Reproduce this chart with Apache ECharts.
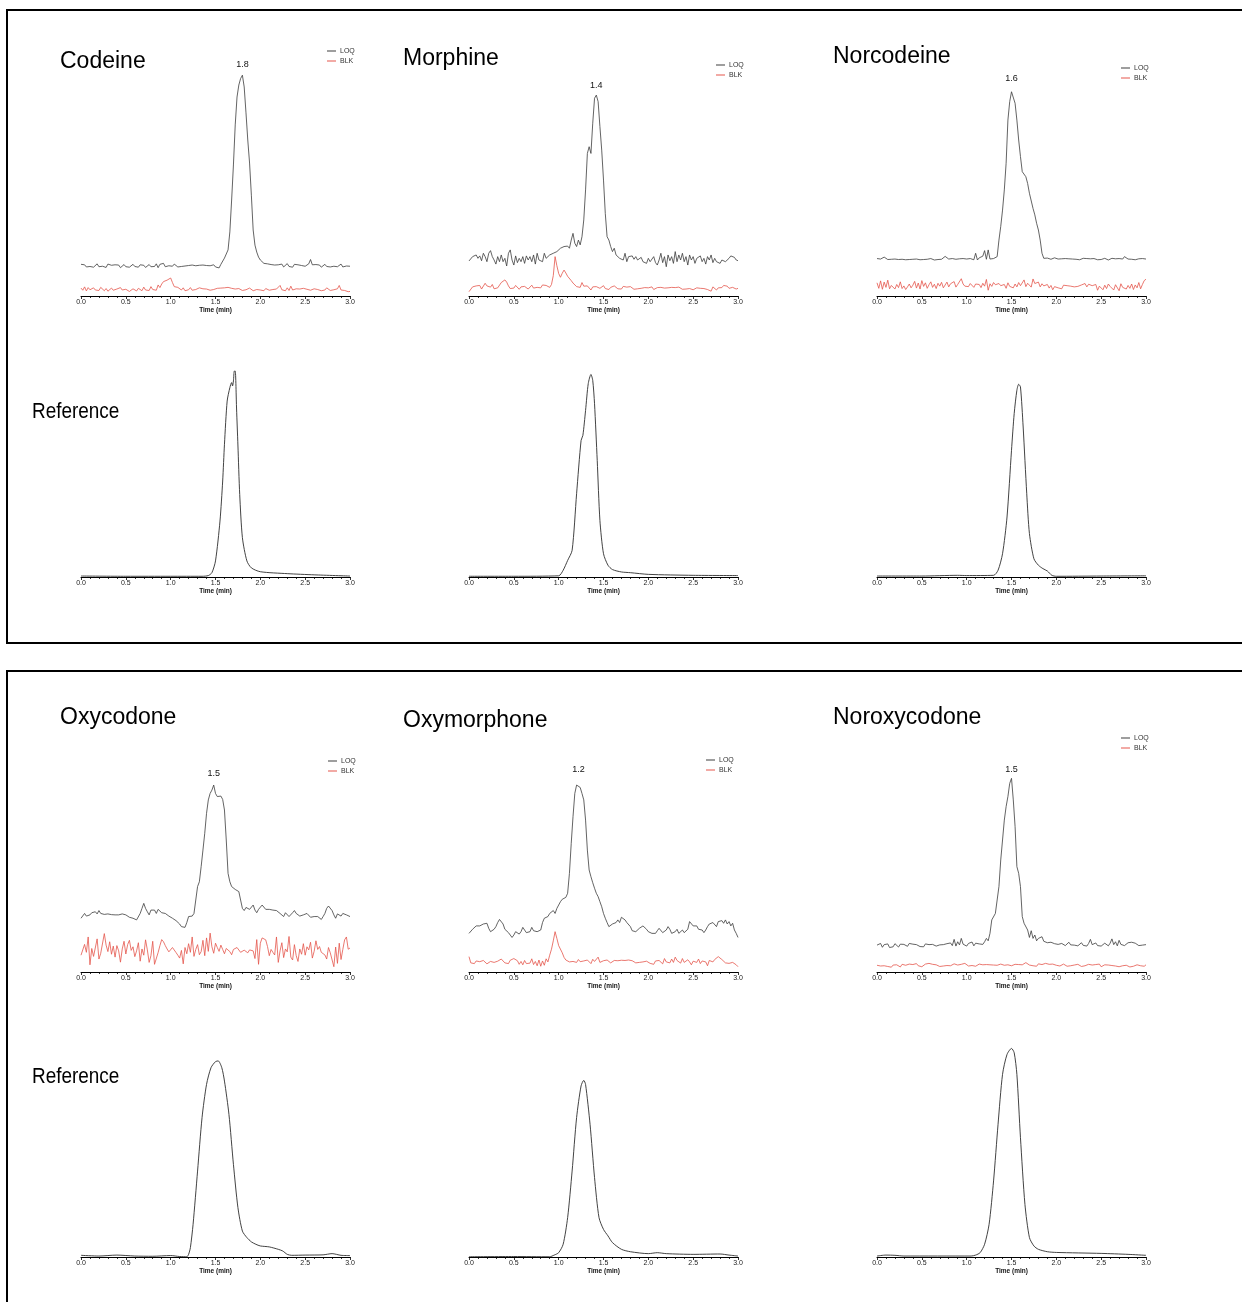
<!DOCTYPE html>
<html>
<head>
<meta charset="utf-8">
<title>LC-MS/MS chromatograms – LOQ, blank and reference</title>
<script src="https://cdn.jsdelivr.net/npm/echarts@6/dist/echarts.min.js"></script>
<style>
  html, body { margin: 0; padding: 0; background: #fff; }
  #chart { width: 1242px; height: 1302px; }
</style>
</head>
<body>
<div id="chart"></div>
<script>
// Sampling interval of the LOQ / blank traces (min); index i sits at i * TIME_STEP.
const TIME_STEP = 0.02;
const X_TICKS = ['0.0', '0.5', '1.0', '1.5', '2.0', '2.5', '3.0'];
const COMPOUNDS = ['Codeine', 'Morphine', 'Norcodeine', 'Oxycodone', 'Oxymorphone', 'Noroxycodone'];
const RT_LABELS = ['1.8', '1.4', '1.6', '1.5', '1.2', '1.5'];
const SERIES_NAMES = ['LOQ', 'BLK'];

// Relative intensity (0–100 of panel height), one value per TIME_STEP from 0.0 to 3.0 min
const codeineLOQ = [
  13.2,12.6,13.0,12.1,12.8,12.3,13.1,12.0,12.7,13.4,
  12.2,12.9,12.4,13.0,11.9,13.3,12.5,12.8,12.1,13.0,
  12.4,12.9,11.8,12.6,13.1,12.2,12.8,12.0,12.7,13.2,
  12.3,12.6,12.0,13.0,12.4,12.8,11.9,12.7,13.1,12.2,
  12.9,12.3,13.4,11.8,13.2,12.5,13.6,12.2,13.0,12.6,
  13.1,12.4,13.3,12.7,12.1,12.9,12.3,12.8,12.5,12.0,
  12.7,12.3,12.9,12.2,12.6,12.1,12.8,12.4,12.9,12.2,
  12.7,12.0,12.6,12.3,13.0,12.1,12.8,11.7,13.2,13.8,
  15.8,17.5,19.2,26.7,40.0,54.6,71.3,82.9,87.9,90.6,
  92.0,87.1,76.3,65.0,55.4,42.0,27.5,21.2,18.3,16.2,
  15.0,14.2,13.6,13.0,13.4,12.6,13.1,12.4,12.9,12.2,
  13.0,12.5,13.3,12.1,12.8,13.5,12.3,12.9,12.0,13.2,
  12.6,13.0,12.2,12.7,13.1,12.4,12.8,13.4,15.2,13.0,
  12.3,13.1,12.5,12.9,12.0,12.7,13.2,12.3,12.8,12.1,
  12.9,12.4,13.0,12.2,12.6,13.3,12.1,12.8,12.5,13.0,
  12.4
];
const codeineBLK = [
  3.3,2.4,3.8,2.1,3.5,2.6,2.2,3.4,2.5,3.0,
  2.3,3.6,2.8,2.2,3.1,2.0,2.7,3.3,2.4,2.1,
  2.9,2.3,3.5,2.5,2.0,2.8,2.2,1.9,2.6,3.0,
  2.4,2.1,3.2,2.6,2.2,3.7,2.5,3.1,2.3,3.9,
  2.7,3.3,2.4,4.6,3.5,5.0,6.0,6.3,6.6,7.1,
  7.5,5.6,3.9,3.2,3.6,2.8,2.5,3.4,2.2,3.0,
  2.6,3.5,2.4,3.1,2.7,2.3,3.4,2.6,3.0,2.2,
  2.9,3.3,2.4,3.0,2.7,3.5,3.2,3.6,3.3,3.9,
  3.4,3.0,3.6,2.8,3.2,2.6,2.9,2.4,3.1,2.7,
  2.3,3.0,2.6,2.4,3.3,2.5,2.2,2.9,2.7,3.2,
  2.5,2.8,2.2,3.1,2.6,2.4,3.0,2.7,2.1,2.9,
  2.4,4.4,2.6,3.0,2.2,3.4,2.3,4.1,2.5,2.8,
  3.0,2.5,2.9,2.3,3.2,2.6,2.8,3.3,2.4,2.2,
  3.0,2.4,2.7,3.2,2.2,2.8,2.5,3.4,2.7,2.3,
  3.1,2.6,2.4,3.0,4.4,2.5,3.2,2.3,2.9,1.8,
  1.9
];
const morphineLOQ = [
  14.6,13.9,16.4,15.7,17.1,15.7,16.7,14.7,17.8,16.4,
  14.3,17.8,18.9,16.4,15.0,13.3,16.4,14.3,17.1,14.3,
  15.7,12.5,17.8,19.2,15.0,12.9,16.7,13.9,15.7,14.3,
  16.4,13.6,16.7,15.0,16.4,14.3,17.1,13.3,17.8,15.0,
  15.7,14.3,17.8,15.7,15.0,17.1,16.4,17.8,17.1,18.5,
  19.2,19.9,19.2,20.6,19.9,20.8,19.9,23.3,26.1,22.0,
  20.6,23.3,21.3,24.7,31.7,44.2,59.4,62.2,59.4,72.0,
  82.4,83.7,81.0,70.6,60.8,48.3,34.4,24.7,23.3,20.6,
  18.5,19.9,17.1,17.8,15.7,16.4,15.0,17.8,14.3,16.4,
  15.7,16.7,15.3,16.4,15.0,15.7,16.1,14.3,15.0,13.6,
  15.7,14.3,15.0,16.4,13.9,12.9,15.0,17.8,13.9,16.4,
  12.2,17.1,14.7,16.4,13.6,18.5,14.3,17.1,15.0,17.8,
  14.3,16.4,12.9,17.1,15.0,16.4,13.6,15.7,15.0,16.7,
  14.3,15.7,13.3,16.4,15.0,17.1,13.9,15.7,14.3,15.0,
  13.6,15.0,15.7,14.3,15.0,15.7,16.7,17.1,16.1,15.0,
  14.7
];
const morphineBLK = [
  1.8,2.4,3.8,4.6,4.2,3.5,4.4,2.9,3.6,5.3,
  4.2,5.0,3.7,4.8,3.0,2.2,3.4,4.1,5.6,6.3,
  6.7,5.8,4.2,3.1,3.9,3.3,4.4,3.6,2.8,3.8,
  3.2,4.0,3.5,2.9,3.7,4.5,3.3,4.1,3.6,4.3,
  3.4,4.6,3.9,4.4,4.1,3.6,4.8,8.5,16.4,12.6,
  9.4,7.8,9.5,10.8,9.6,8.2,7.5,6.4,5.4,4.6,
  3.9,3.2,3.6,5.6,4.1,3.5,4.2,3.4,2.5,3.8,
  4.6,3.9,4.4,3.2,3.7,4.3,3.1,3.8,2.7,3.6,
  3.3,4.2,3.5,3.0,3.8,2.9,4.0,3.4,3.7,3.1,
  3.9,3.3,2.8,3.6,3.0,3.7,3.2,2.6,3.5,2.9,
  3.4,3.0,3.8,2.7,2.0,3.5,3.1,3.6,2.9,3.3,
  3.8,3.4,3.9,3.6,4.0,3.5,3.1,3.7,3.2,2.8,
  3.3,2.9,3.6,3.1,3.5,2.6,3.0,3.4,2.8,3.2,
  3.6,3.1,3.4,2.7,3.3,2.0,3.8,3.2,2.5,3.4,
  3.0,3.5,4.4,3.6,4.1,3.2,3.0,3.6,3.3,2.9,
  3.2
];
const norcodeineLOQ = [
  15.6,15.9,15.4,15.8,16.2,15.5,15.2,15.7,15.3,15.0,
  15.4,15.8,15.2,14.9,15.3,15.6,15.1,14.8,15.2,15.5,
  15.3,15.0,15.4,15.6,15.1,14.8,15.2,15.5,15.3,15.9,
  15.6,15.2,15.0,15.4,15.2,15.7,15.3,15.5,16.5,15.8,
  15.4,15.1,15.6,15.8,15.3,15.9,15.5,15.2,15.6,16.0,
  15.4,15.3,15.6,15.5,15.1,17.8,15.0,15.9,15.4,16.6,
  18.9,15.3,19.2,15.4,15.1,15.6,16.0,16.4,23.3,29.0,
  35.8,44.2,55.3,73.3,81.0,85.1,84.7,80.3,73.3,65.0,
  58.1,51.8,51.1,49.7,46.9,42.8,43.5,36.5,33.8,30.3,
  27.5,23.3,17.8,15.7,15.4,15.8,15.5,15.3,15.7,15.9,
  15.6,15.4,15.8,15.5,15.3,15.6,15.2,15.5,15.8,15.4,
  15.6,15.3,15.5,15.1,15.4,15.7,15.3,15.6,15.2,15.5,
  15.3,15.6,15.4,15.1,15.5,15.2,15.4,15.7,15.3,15.0,
  15.4,15.7,15.3,15.5,15.2,15.6,15.9,15.4,16.4,15.8,
  15.4,15.6,15.3,15.7,15.1,14.9,15.5,15.2,15.6,15.0,
  15.4
];
const norcodeineBLK = [
  5.5,3.2,6.3,2.8,5.8,3.6,6.6,3.0,4.4,5.2,
  2.9,4.8,3.5,5.9,3.1,4.2,2.7,3.8,5.0,3.4,
  4.5,6.1,3.3,5.4,2.9,6.4,4.0,5.5,3.2,4.7,
  5.9,3.6,4.9,3.1,5.3,4.1,5.7,3.4,4.6,5.8,
  3.8,5.1,4.3,6.0,3.7,4.8,5.5,7.2,5.0,4.1,
  4.6,3.9,5.2,4.4,3.6,5.0,4.2,4.8,3.5,5.3,
  4.1,6.9,2.4,5.1,4.0,5.6,4.7,3.9,5.2,4.3,
  3.6,4.8,3.2,5.5,4.0,4.6,3.4,5.0,3.8,5.6,
  4.3,5.1,6.7,3.9,5.3,4.5,3.7,7.1,5.2,4.4,
  5.8,3.8,5.1,4.2,3.6,4.8,3.3,4.4,2.6,3.9,
  4.7,3.4,4.2,3.0,4.5,3.9,4.3,3.5,4.1,4.6,
  3.8,4.4,4.0,3.2,4.6,4.2,5.2,3.8,4.9,5.4,
  4.3,3.6,4.8,2.4,4.1,3.3,2.6,4.5,3.1,5.0,
  4.0,3.5,2.5,4.7,3.9,2.2,5.1,3.6,4.2,2.9,
  4.4,3.2,5.0,2.7,4.6,3.4,5.6,3.0,4.8,6.4,
  7.0
];
const oxycodoneLOQ = [
  22.4,23.1,24.4,23.3,22.8,23.8,24.7,24.4,25.1,24.2,
  25.6,24.4,25.0,24.0,24.4,24.2,23.8,23.9,23.3,23.8,
  24.4,23.8,23.1,24.2,24.7,23.8,23.3,22.8,23.3,22.4,
  23.1,21.7,21.0,24.4,26.5,28.6,26.5,25.1,23.8,25.8,
  26.5,25.8,24.4,26.1,25.6,24.7,25.1,24.4,23.8,23.3,
  23.1,22.4,21.9,21.4,21.0,20.0,18.9,18.1,18.6,20.6,
  23.1,23.8,23.3,24.4,30.0,35.6,37.6,43.9,50.8,57.8,
  66.1,71.7,74.4,75.8,77.9,74.4,73.1,72.4,73.3,71.9,
  67.5,55.0,41.1,37.6,35.6,34.9,34.4,34.9,33.5,30.0,
  26.5,25.6,26.9,27.5,26.1,26.5,27.9,25.8,24.7,26.1,
  26.9,27.9,27.2,26.1,26.5,26.1,26.5,25.8,26.4,25.6,
  26.1,24.4,23.8,23.1,24.7,24.4,23.1,23.3,24.7,25.6,
  24.4,23.8,23.3,22.8,23.8,23.1,24.4,23.8,22.8,22.4,
  23.1,23.8,23.1,22.4,21.9,23.1,24.4,26.5,27.5,26.9,
  25.6,23.8,22.4,24.2,24.7,23.3,24.4,25.1,23.8,23.3,
  23.1
];
const oxycodoneBLK = [
  7.0,6.3,11.5,8.2,14.6,3.0,9.8,6.5,7.2,13.8,
  5.4,7.8,7.0,16.0,11.2,8.5,12.6,7.4,10.8,6.2,
  11.0,8.8,4.1,9.6,12.8,7.5,11.4,13.2,9.0,10.5,
  6.4,8.8,12.2,4.5,9.6,7.0,13.4,9.2,4.0,6.8,
  12.8,3.2,2.4,8.1,11.0,13.5,12.6,11.0,9.6,8.4,
  7.8,10.2,9.4,8.1,7.0,5.8,9.0,3.4,10.2,7.6,
  11.8,8.2,14.6,6.5,9.4,11.4,7.2,8.5,13.2,6.8,
  14.2,8.6,16.2,10.5,7.8,12.0,10.2,8.6,11.2,9.4,
  7.6,9.8,10.4,8.5,7.2,9.4,8.6,10.2,9.5,8.2,
  7.8,9.1,8.4,8.0,9.2,8.4,8.8,5.6,13.5,3.2,
  12.0,14.2,15.0,13.4,10.6,6.8,9.4,8.2,7.1,14.6,
  4.0,8.8,12.2,6.0,9.6,8.4,14.8,6.2,5.0,11.4,
  6.8,4.4,9.6,7.4,11.8,7.0,10.5,9.2,12.4,5.8,
  8.6,13.0,9.4,10.6,8.2,8.8,7.1,5.4,10.2,8.0,
  8.8,2.2,10.4,3.6,12.0,5.2,9.4,13.4,14.6,9.5,
  10.0
];
const oxymorphoneLOQ = [
  16.1,16.8,17.8,18.6,19.2,19.6,19.2,18.9,20.0,20.6,
  20.3,18.2,16.8,16.8,17.8,18.9,20.6,21.9,22.4,20.0,
  17.8,17.2,16.4,15.4,14.4,15.4,16.8,17.5,15.8,16.8,
  18.6,17.5,16.4,17.2,16.8,18.6,17.2,16.4,16.8,16.1,
  17.5,20.6,22.4,21.7,23.1,24.4,25.1,25.6,24.4,26.5,
  27.9,29.3,30.3,30.0,31.1,32.8,41.1,53.6,64.7,74.4,
  77.9,78.6,76.9,74.4,71.7,63.3,50.8,42.5,39.7,37.2,
  34.9,32.8,31.4,29.3,27.2,24.4,22.4,20.6,18.9,19.6,
  20.0,20.3,20.6,21.7,20.6,22.8,23.3,21.7,20.6,20.0,
  18.9,17.2,16.4,16.8,17.5,18.2,18.9,19.2,18.6,17.8,
  16.8,17.5,16.1,15.4,16.1,17.2,18.2,17.8,16.4,15.8,
  17.5,18.9,17.8,16.1,15.4,16.8,17.8,16.1,16.8,17.5,
  16.4,15.8,17.8,21.0,20.3,19.2,20.0,19.2,17.8,18.6,
  17.5,16.4,17.5,18.9,20.0,19.2,20.6,20.0,18.9,21.0,
  20.3,21.4,20.3,21.7,20.0,21.0,19.2,20.3,17.5,16.1,
  14.4
];
const oxymorphoneBLK = [
  6.4,3.8,4.2,3.5,4.6,5.0,4.3,3.6,4.8,4.1,
  3.4,3.8,4.4,5.2,4.0,3.6,4.5,3.9,5.4,4.6,
  3.8,4.3,3.5,4.9,5.3,5.6,5.3,4.7,3.2,4.4,
  3.0,4.8,3.5,4.2,3.7,5.5,3.1,4.4,2.6,5.0,
  2.4,4.6,2.8,5.5,4.2,7.0,9.5,13.0,16.8,14.0,
  11.0,11.2,8.0,6.1,5.0,5.3,4.2,5.0,4.4,4.8,
  4.0,5.2,4.3,3.8,4.6,4.1,5.0,4.2,3.5,5.3,
  4.4,3.6,6.2,4.0,3.4,4.7,4.2,5.0,4.6,3.8,
  4.4,4.8,5.0,4.7,5.1,4.9,5.2,4.8,4.6,5.0,
  5.1,4.7,4.3,3.8,4.4,4.0,3.5,4.2,3.9,4.5,
  4.1,3.6,4.3,3.2,4.6,5.2,4.8,4.0,3.4,5.6,
  4.2,5.0,3.8,5.4,4.0,6.2,4.8,5.4,3.7,5.6,
  4.0,3.3,5.1,4.2,3.0,4.5,4.8,4.0,5.4,3.5,
  4.6,5.3,4.2,2.6,4.8,5.6,4.2,5.2,5.9,6.4,
  5.6,5.2,4.4,3.8,4.0,3.6,3.8,4.0,3.4,3.0,
  2.2
];
const noroxycodoneLOQ = [
  11.2,10.6,11.9,10.3,11.4,10.8,11.7,10.2,11.0,10.5,
  11.8,11.3,10.4,11.6,10.9,11.5,11.2,10.7,11.9,11.1,
  11.6,10.8,11.4,11.0,10.6,11.2,10.5,11.7,11.0,11.4,
  10.9,11.5,11.2,10.8,11.6,11.3,10.7,11.4,11.1,11.8,
  11.5,12.1,11.0,13.6,10.8,12.6,11.3,14.0,11.6,12.2,
  10.8,11.9,11.4,12.5,10.9,12.0,11.3,11.7,12.4,11.5,
  12.6,14.0,13.0,16.1,21.7,22.4,24.4,30.0,35.6,46.7,
  55.0,63.3,68.9,73.1,78.6,80.7,71.7,60.6,43.9,41.1,
  35.6,23.1,20.3,21.0,17.5,14.4,17.2,14.0,15.4,13.0,
  14.0,13.3,14.7,12.8,13.6,12.2,13.0,12.4,12.9,11.8,
  12.6,11.5,12.2,11.9,12.3,11.0,11.6,12.4,11.3,11.9,
  11.2,12.0,10.9,11.7,12.2,11.1,11.6,10.8,11.9,13.6,
  11.4,10.6,12.1,11.0,11.7,10.8,11.5,12.0,11.2,10.9,
  12.0,13.8,11.4,12.6,10.9,13.2,11.5,12.3,11.0,11.8,
  12.2,12.6,12.4,11.8,12.0,11.3,11.0,11.6,11.2,10.7,
  11.4
];
const noroxycodoneBLK = [
  2.8,2.2,2.5,1.9,2.6,3.1,2.3,2.7,2.0,2.9,
  2.4,3.0,2.6,2.1,3.2,2.5,2.8,2.2,3.3,2.7,
  3.1,2.4,3.5,2.6,3.0,2.2,2.9,3.3,2.5,3.6,
  2.8,3.2,2.4,3.0,2.6,2.3,2.9,2.5,3.1,2.7,
  3.3,2.6,3.0,3.4,3.8,2.9,3.5,3.2,2.8,3.6,
  3.0,2.5,3.2,2.7,3.1,2.4,2.9,3.3,2.6,3.0,
  2.5,3.1,3.8,3.0,3.2,2.9,3.1,2.8,3.0,3.3,
  3.0,2.8,3.4,3.0,2.7,2.6,2.9,3.2,2.8,3.1,
  2.7,3.0,3.5,3.9,3.2,2.9,3.1,2.6,3.0,2.4,
  3.4,2.8,3.1,2.5,3.6,2.9,3.2,2.6,3.3,3.0,
  2.8,3.2,2.5,2.9,3.3,2.7,2.4,3.0,2.6,3.1,
  2.9,2.5,3.2,2.7,2.3,3.0,2.6,2.8,3.2,2.5,
  2.9,2.4,3.1,2.6,3.3,2.2,2.8,3.0,2.5,2.9,
  2.3,2.7,3.2,2.5,2.9,2.2,3.0,2.6,2.4,2.8,
  2.6,2.1,2.9,2.4,2.7,3.0,2.2,2.6,1.8,2.4,
  3.0
];

// Reference standard traces: [time (min), relative intensity]
const codeineRef = [
  [0,0.4],[0.5,0.3],[1.0,0.3],[1.35,0.3],[1.42,0.6],[1.46,1.8],[1.5,6.7],[1.55,23.3],
  [1.58,40],[1.6,55.3],[1.63,73.3],[1.66,78.9],[1.68,81],[1.69,79.6],[1.7,81.7],
  [1.71,85.8],[1.72,85.8],[1.735,70],[1.75,55],[1.77,34.4],[1.8,16.4],[1.85,6.7],
  [1.9,3.8],[2.0,2.2],[2.3,1.4],[2.6,0.9],[3.0,0.4]
];
const morphineRef = [
  [0,0.3],[0.5,0.3],[1.0,0.5],[1.05,2.8],[1.1,6.9],[1.15,11.1],[1.2,34.7],[1.25,56.9],
  [1.27,59],[1.3,69.4],[1.33,80.6],[1.36,84.4],[1.38,81.9],[1.4,72.2],[1.43,48.6],
  [1.46,23.6],[1.5,9.7],[1.55,4.9],[1.6,3.1],[1.7,2.1],[1.8,1.8],[2.0,1.1],[2.5,0.7],[3.0,0.6]
];
const norcodeineRef = [
  [0,0.4],[0.5,0.4],[0.9,0.7],[1.0,0.6],[1.3,0.7],[1.35,2.8],[1.4,9.7],[1.45,25],
  [1.5,52.8],[1.53,68.1],[1.56,77.8],[1.58,80.3],[1.6,79.2],[1.63,62.5],[1.67,34.7],
  [1.7,18.1],[1.75,7.6],[1.8,4.9],[1.85,3.5],[1.9,2.5],[1.95,0.7],[2.0,0.3],[2.5,0.4],[3.0,0.5]
];
const oxycodoneRef = [
  [0,0.7],[0.2,0.4],[0.4,0.8],[0.6,0.4],[0.8,0.3],[1.0,0.6],[1.1,0.2],[1.18,0.1],
  [1.2,1.1],[1.22,3.9],[1.25,13.6],[1.3,35.8],[1.35,58.1],[1.4,71.9],[1.45,78.9],
  [1.5,81.4],[1.53,81.7],[1.57,78.9],[1.6,73.3],[1.65,59.4],[1.7,38.6],[1.75,20.6],
  [1.8,10.8],[1.85,8.1],[1.9,6.3],[1.95,5.3],[2.0,4.6],[2.1,4.2],[2.2,3.2],[2.25,2.5],
  [2.3,1.1],[2.35,0.7],[2.5,0.8],[2.7,0.9],[2.8,1.4],[2.9,0.7],[3.0,0.6]
];
const oxymorphoneRef = [
  [0,0.1],[0.5,0.2],[0.9,0.1],[0.95,0.8],[1.0,1.8],[1.05,5.3],[1.1,16.4],[1.15,35.8],
  [1.2,58.1],[1.25,71.3],[1.28,73.6],[1.3,71.9],[1.35,55.3],[1.4,33.1],[1.45,16.4],
  [1.5,11.5],[1.55,8.8],[1.6,6.0],[1.7,3.2],[1.8,2.2],[2.0,1.4],[2.1,1.8],[2.2,1.4],
  [2.5,1.1],[2.8,1.25],[2.9,0.8],[3.0,0.4]
];
const noroxycodoneRef = [
  [0,0.4],[0.1,0.8],[0.2,0.7],[0.3,0.4],[1.05,0.4],[1.1,0.8],[1.15,1.8],[1.2,5.3],
  [1.25,13.6],[1.3,31.7],[1.35,55.3],[1.4,76.1],[1.45,84.4],[1.5,86.9],[1.53,85.1],
  [1.56,76.1],[1.6,49.7],[1.65,21.9],[1.7,8.1],[1.75,4.6],[1.8,3.2],[1.9,2.2],[2.0,1.9],
  [2.5,1.5],[2.8,1.1],[3.0,0.7]
];

const LOQ_TRACES = [codeineLOQ, morphineLOQ, norcodeineLOQ, oxycodoneLOQ, oxymorphoneLOQ, noroxycodoneLOQ];
const BLK_TRACES = [codeineBLK, morphineBLK, norcodeineBLK, oxycodoneBLK, oxymorphoneBLK, noroxycodoneBLK];
const REF_TRACES = [codeineRef, morphineRef, norcodeineRef, oxycodoneRef, oxymorphoneRef, noroxycodoneRef];

// ---- layout ----
const COL_LEFT = [81, 469, 877];
const PLOT_W = 269;
const PLOT_H = 240;
// grid tops: sample row / reference row of each framed block
const ROW_TOP = { sampleA: 56, refA: 337, sampleB: 732, refB: 1017 };
const TITLE_POS = [[60, 62], [403, 59], [833, 57], [60, 718], [403, 721], [833, 718]];
const REF_TITLE_POS = [[32, 412], [32, 1077]];
const LEGEND_POS = [[327, 46.5], [716, 60.5], [1121, 63.5], [328, 756.5], [706, 755.5], [1121, 733.5]];
const RT_LIFT = [6, 5, 9, 7, 9, 4];

const COLOR_LOQ = '#3c3c3c';
const COLOR_BLK = '#e5554b';
const COLOR_REF = '#2e2e2e';
const FONT = '"Liberation Sans", Arial, Helvetica, sans-serif';

const toTimeSeries = arr => arr.map((v, i) => [+(i * TIME_STEP).toFixed(2), v]);

const grids = [], xAxes = [], yAxes = [], series = [], legends = [], graphics = [];

function addPanel(left, top) {
  const k = grids.length;
  grids.push({ left: left, top: top, width: PLOT_W, height: PLOT_H, containLabel: false });
  xAxes.push({
    type: 'value', gridIndex: k, min: 0, max: 3, interval: 0.5,
    name: 'Time (min)', nameLocation: 'middle', nameGap: 11,
    nameTextStyle: { fontFamily: FONT, fontSize: 6.5, fontWeight: 'bold', color: '#111' },
    axisLine: { show: true, onZero: false, lineStyle: { color: '#000', width: 1 } },
    axisTick: { show: true, inside: false, length: 3, lineStyle: { color: '#000', width: 0.8 } },
    minorTick: { show: true, splitNumber: 5, length: 2, lineStyle: { color: '#000', width: 0.8 } },
    splitLine: { show: false },
    axisLabel: {
      fontFamily: FONT, fontSize: 7, color: '#222', margin: 3,
      formatter: v => X_TICKS[Math.round(v / 0.5)] ?? ''
    }
  });
  yAxes.push({ type: 'value', gridIndex: k, min: 0, max: 100, show: false });
  return k;
}

COMPOUNDS.forEach((name, c) => {
  const col = c % 3;
  const block = c < 3 ? 'A' : 'B';
  // sample panel (LOQ + blank)
  const k = addPanel(COL_LEFT[col], ROW_TOP['sample' + block]);
  series.push({
    type: 'line', name: 'LOQ', xAxisIndex: k, yAxisIndex: k,
    data: toTimeSeries(LOQ_TRACES[c]), symbol: 'none', silent: true,
    lineStyle: { color: COLOR_LOQ, width: 0.8 }, itemStyle: { color: COLOR_LOQ },
    z: 3,
    markPoint: {
      symbol: 'circle', symbolSize: 0, silent: true,
      itemStyle: { color: 'transparent' },
      label: {
        show: true, position: 'top', distance: RT_LIFT[c],
        fontFamily: FONT, fontSize: 9, color: '#111',
        formatter: () => RT_LABELS[c]
      },
      data: [{ type: 'max', valueDim: 'y' }]
    }
  });
  series.push({
    type: 'line', name: 'BLK', xAxisIndex: k, yAxisIndex: k,
    data: toTimeSeries(BLK_TRACES[c]), symbol: 'none', silent: true,
    lineStyle: { color: COLOR_BLK, width: 0.8 }, itemStyle: { color: COLOR_BLK },
    z: 2
  });
  legends.push({
    data: SERIES_NAMES, orient: 'vertical', left: LEGEND_POS[c][0], top: LEGEND_POS[c][1],
    icon: 'rect', itemWidth: 9, itemHeight: 1, itemGap: 1, padding: 0,
    selectedMode: false,
    textStyle: { fontFamily: FONT, fontSize: 7, color: '#333', lineHeight: 9, padding: [0, 0, 0, -1] }
  });
  graphics.push({
    type: 'text', x: TITLE_POS[c][0], y: TITLE_POS[c][1],
    style: { text: name, font: '23px ' + FONT, fill: '#000', verticalAlign: 'middle' }
  });

  // reference standard panel
  const r = addPanel(COL_LEFT[col], ROW_TOP['ref' + block]);
  series.push({
    type: 'line', name: 'Reference ' + name, xAxisIndex: r, yAxisIndex: r,
    data: REF_TRACES[c], symbol: 'none', smooth: 0.25, silent: true,
    lineStyle: { color: COLOR_REF, width: 0.9 }, itemStyle: { color: COLOR_REF }
  });
});

// "Reference" row captions, set in a horizontally condensed face
REF_TITLE_POS.forEach(p => {
  graphics.push({
    type: 'text', x: p[0], y: p[1], scaleX: 0.86, scaleY: 1,
    style: {
      text: 'Reference', font: '22px ' + FONT,
      fill: '#000', verticalAlign: 'middle'
    }
  });
});

// frames around the two compound groups
graphics.push({
  type: 'rect', shape: { x: 7, y: 10, width: 1300, height: 633 },
  style: { fill: 'none', stroke: '#000', lineWidth: 2 }, silent: true
});
graphics.push({
  type: 'rect', shape: { x: 7, y: 671, width: 1300, height: 700 },
  style: { fill: 'none', stroke: '#000', lineWidth: 2 }, silent: true
});

const chart = echarts.init(document.getElementById('chart'), null, { renderer: 'canvas' });
chart.setOption({
  backgroundColor: '#fff',
  animation: false,
  grid: grids,
  xAxis: xAxes,
  yAxis: yAxes,
  legend: legends,
  series: series,
  graphic: { elements: graphics }
});
</script>
</body>
</html>
